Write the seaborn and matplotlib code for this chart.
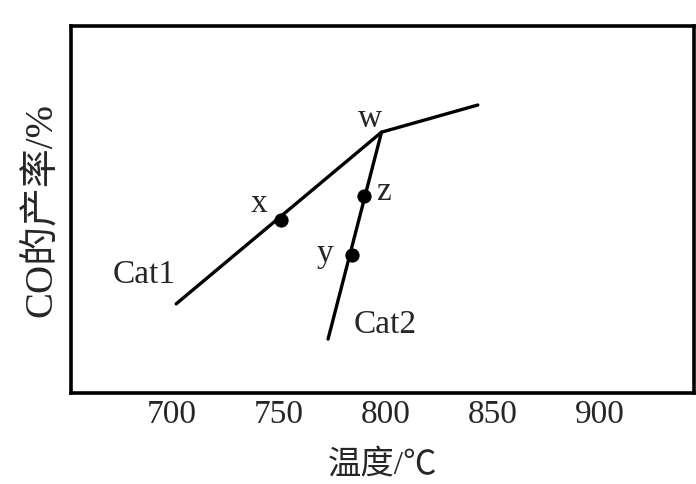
import matplotlib
matplotlib.use("Agg")
import matplotlib.pyplot as plt
import seaborn as sns
import pandas as pd

# Cat1 curve (temperature in C, CO yield, arbitrary %)
cat1_temp = [702, 798, 843]
cat1_yield = [24.3, 71.1, 78.5]

# Cat2 curve
cat2_temp = [773, 798]
cat2_yield = [14.7, 71.1]

# marked points
pt_names = ["x", "y", "z", "w"]
pt_temp = [751, 784, 790, 798]
pt_yield = [47.1, 37.6, 53.7, 71.1]
pt_dot = [True, True, True, False]

x_ticks = [700, 750, 800, 850, 900]

sns.set_style("white")
plt.rcParams["font.family"] = ["Liberation Serif", "Noto Sans CJK SC"]

fig = plt.figure(figsize=(6.96, 4.84), dpi=100)
ax = fig.add_axes([0.1016, 0.188, 0.895, 0.758])

df1 = pd.DataFrame({"temp": cat1_temp, "co": cat1_yield})
df2 = pd.DataFrame({"temp": cat2_temp, "co": cat2_yield})
sns.lineplot(data=df1, x="temp", y="co", ax=ax, color="black", lw=2.4, sort=False)
sns.lineplot(data=df2, x="temp", y="co", ax=ax, color="black", lw=2.4, sort=False)

pts = pd.DataFrame({"name": pt_names, "temp": pt_temp, "co": pt_yield, "dot": pt_dot})
dots = pts[pts["dot"]]
sns.scatterplot(data=dots, x="temp", y="co", ax=ax, color="black", s=90,
                edgecolor="black", zorder=3)

# point letters
offsets = {"x": (-16, 12), "y": (-19, 1), "z": (14, 3), "w": (-8, 10)}
for _, r in pts.iterrows():
    ax.annotate(r["name"], (r["temp"], r["co"]), xytext=offsets[r["name"]],
                textcoords="offset points", ha="center", va="center", fontsize=24)

ax.annotate("Cat1", (cat1_temp[0], cat1_yield[0]), xytext=(-23, 21),
            textcoords="offset points", ha="center", va="center", fontsize=24)
ax.annotate("Cat2", (cat2_temp[0], cat2_yield[0]), xytext=(41, 10),
            textcoords="offset points", ha="center", va="center", fontsize=24)

ax.set_xlim(652.7, 943.9)
ax.set_ylim(0, 100)
ax.set_xticks(x_ticks)
ax.set_yticks([])
ax.tick_params(axis="x", direction="in", length=13, width=2.2, labelsize=24, pad=5,
               color="black")
ax.xaxis.set_label_coords(0.48, -0.155)
ax.set_xlabel("温度/℃", fontsize=24)
ax.set_ylabel("CO的产率/%", fontsize=28, labelpad=8)

for s in ax.spines.values():
    s.set_color("black")
    s.set_linewidth(2.6)

fig.savefig("out.png", dpi=100)
